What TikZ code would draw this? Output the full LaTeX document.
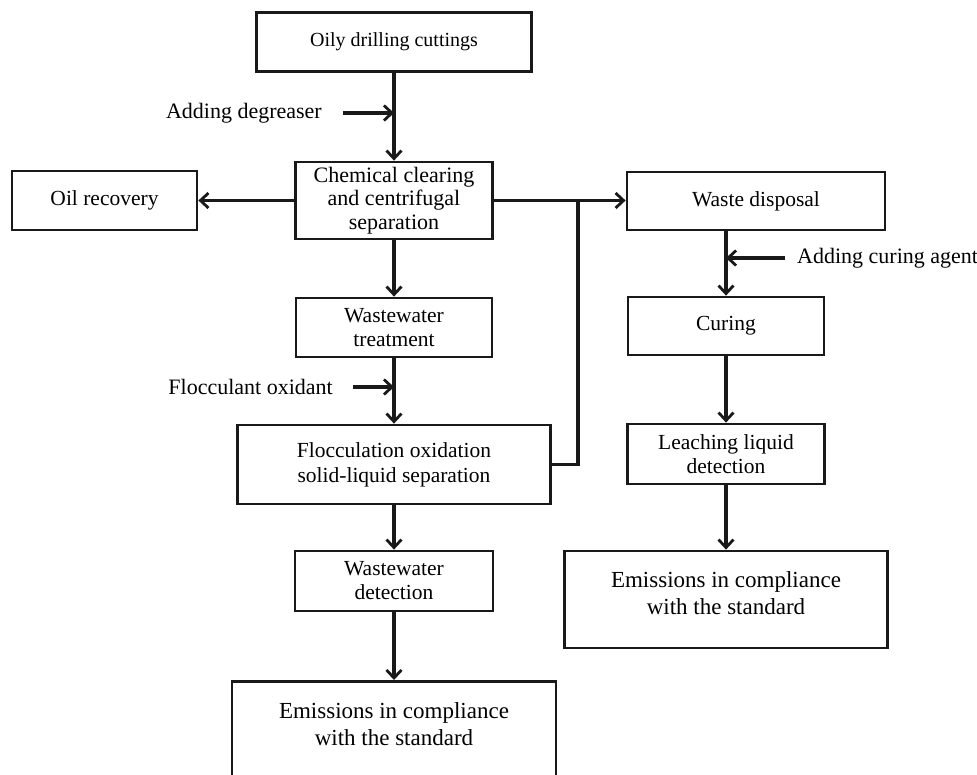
\documentclass[tikz,border=0pt]{standalone}
\usepackage{fontspec}
\setmainfont{Liberation Serif}
\usetikzlibrary{arrows.meta,calc}
\begin{document}
\begin{tikzpicture}[x=1pt,y=-1pt,
  boxstyle/.style={draw=black!90, line width=2.8pt, align=center, inner sep=0pt,
    font=\fontsize{21.5}{24}\selectfont, text=black},
  lbl/.style={inner sep=0pt, font=\fontsize{22}{24}\selectfont, text=black},
  emtext/.style={align=center, inner sep=0pt, font=\fontsize{23}{27}\selectfont, text=black},
  arr/.style={line width=3.1pt, draw=black!90, -{Straight Barb[length=8pt,width=15pt,line width=2.8pt]}},
  ln/.style={line width=3.1pt, draw=black!90}]
\useasboundingbox (0,0) rectangle (977,774);
\clip (0,0) rectangle (977,774);
\fill[white] (0,0) rectangle (977,774);
% left column
\node[boxstyle, minimum width=275pt, minimum height=59pt, font=\fontsize{20}{24}\selectfont] (oily) at (394,42) {Oily drilling cuttings};
\node[boxstyle, minimum width=197pt, minimum height=77pt, font=\fontsize{22}{23.5}\selectfont] (chem) at (394,200.5) {Chemical clearing\\and centrifugal\\separation};
\node[boxstyle, minimum width=185pt, minimum height=59pt] (oil) at (104.5,200.5) {Oil recovery};
\node[boxstyle, minimum width=196pt, minimum height=59pt] (wwt) at (394,327.5) {Wastewater\\treatment};
\node[boxstyle, minimum width=313pt, minimum height=79pt, font=\fontsize{21.5}{25}\selectfont] (floc) at (394,464.5) {Flocculation oxidation\\solid-liquid separation};
\node[boxstyle, minimum width=198pt, minimum height=60pt] (wwd) at (394,581) {Wastewater\\detection};
\node[draw=black!90, line width=2.8pt, minimum width=324pt, minimum height=130pt, anchor=north, inner sep=0pt] (em1) at (394,680) {};
\node[emtext] (em1t) at (394,724) {Emissions in compliance\\with the standard};
% right column
\node[boxstyle, minimum width=258pt, minimum height=58pt] (waste) at (756,201) {Waste disposal};
\node[boxstyle, minimum width=196pt, minimum height=58pt] (cur) at (726,326) {Curing};
\node[boxstyle, minimum width=197pt, minimum height=60pt] (leach) at (726,454) {Leaching liquid\\detection};
\node[boxstyle, minimum width=323pt, minimum height=97pt, font=\fontsize{23}{27}\selectfont] (em2) at (726,599.5) {Emissions in compliance\\with the standard\\[-14pt]};
% side labels
\node[lbl, anchor=east] (degr) at (322,113) {Adding degreaser};
\node[lbl, anchor=east] (flocl) at (333,387) {Flocculant oxidant};
\node[lbl, anchor=west] (cagent) at (797,258) {Adding curing agent};
% connectors
\draw[arr] (oily) -- (chem);
\draw[arr] (chem) -- (wwt);
\draw[arr] (wwt) -- (floc);
\draw[arr] (floc) -- (wwd);
\draw[arr] (wwd) -- (em1);
\draw[arr] (chem.west) -- (oil.east);
\draw[arr] (chem.east) -- (chem.east -| waste.west);
\coordinate (jn) at (578,200.5);
\draw[ln] (floc.east) -| (jn);
\draw[arr] (cur.north |- waste.south) -- (cur.north);
\draw[arr] (cur) -- (leach);
\draw[arr] (leach) -- (em2);
\draw[arr] ([xshift=21pt]degr.east) -- (degr.east -| oily.south);
\draw[arr] ([xshift=20pt]flocl.east) -- (flocl.east -| wwt.south);
\draw[arr] ([xshift=-12pt]cagent.west) -- (cagent.west -| cur.north);
\end{tikzpicture}
\end{document}
